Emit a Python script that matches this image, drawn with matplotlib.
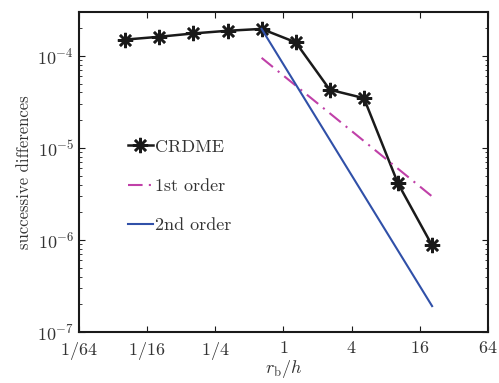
import numpy as np
import matplotlib
matplotlib.use('Agg')
import matplotlib.pyplot as plt
from matplotlib.ticker import FixedLocator, LogLocator, NullFormatter, NullLocator

plt.rcParams['font.family'] = ['cmr10', 'DejaVu Serif']
plt.rcParams['mathtext.fontset'] = 'cm'
plt.rcParams['axes.formatter.use_mathtext'] = True

# data
rb_h = [2 ** (k - 0.64) for k in range(-4, 6)]
crdme = [1.50e-4, 1.61e-4, 1.75e-4, 1.87e-4, 1.96e-4,
         1.40e-4, 4.28e-5, 3.47e-5, 4.11e-6, 8.73e-7]
x_ref = [rb_h[4], rb_h[9]]
first_order = [9.5e-5, 9.5e-5 / 32]
second_order = [1.96e-4, 1.96e-4 / 1024]
xtick_vals = [1/64, 1/16, 1/4, 1, 4, 16, 64]
xtick_labels = ['$1/64$', '$1/16$', '$1/4$', '$1$', '$4$', '$16$', '$64$']

fig = plt.figure(figsize=(4.99, 3.83), dpi=100)
ax = fig.add_axes([0.158, 0.133, 0.820, 0.836])

ax.plot(rb_h, crdme, color='#1a1a1a', lw=1.8, marker=(8, 2, 0), ms=11,
        mew=1.8, label='CRDME')
ax.plot(x_ref, first_order, color='#c040a8', lw=1.5, ls=(0, (7, 3, 1, 3)),
        label='1st order')
ax.plot(x_ref, second_order, color='#3050a8', lw=1.5, label='2nd order')

ax.set_xscale('log', base=2)
ax.set_yscale('log')
ax.set_xlim(1/64, 64)
ax.set_ylim(1e-7, 3e-4)

ax.xaxis.set_major_locator(FixedLocator(xtick_vals))
ax.set_xticklabels(xtick_labels)
ax.xaxis.set_minor_locator(NullLocator())
ax.yaxis.set_major_locator(LogLocator(base=10, numticks=10))
ax.yaxis.set_minor_locator(LogLocator(base=10, subs=np.arange(2, 10), numticks=10))
ax.yaxis.set_minor_formatter(NullFormatter())

ax.tick_params(which='both', direction='in', top=True, right=True,
               labelsize=13, colors='#1a1a1a', labelcolor='#333333')
ax.tick_params(which='major', length=4, width=0.8)
ax.tick_params(which='minor', length=2, width=0.6)
ax.tick_params(axis='x', pad=6)
for s in ax.spines.values():
    s.set_linewidth(1.5)
    s.set_color('#1a1a1a')

ax.set_xlabel('$r_\\mathrm{b}/h$', fontsize=13, color='#333333', labelpad=-3)
ax.set_ylabel('successive differences', fontsize=12, color='#333333', labelpad=4)

ax.legend(loc='center left', bbox_to_anchor=(0.08, 0.456), frameon=False,
          fontsize=13, handlelength=1.4, handletextpad=0.1, labelspacing=1.3,
          labelcolor='#333333')

fig.savefig('out.png', dpi=100)
